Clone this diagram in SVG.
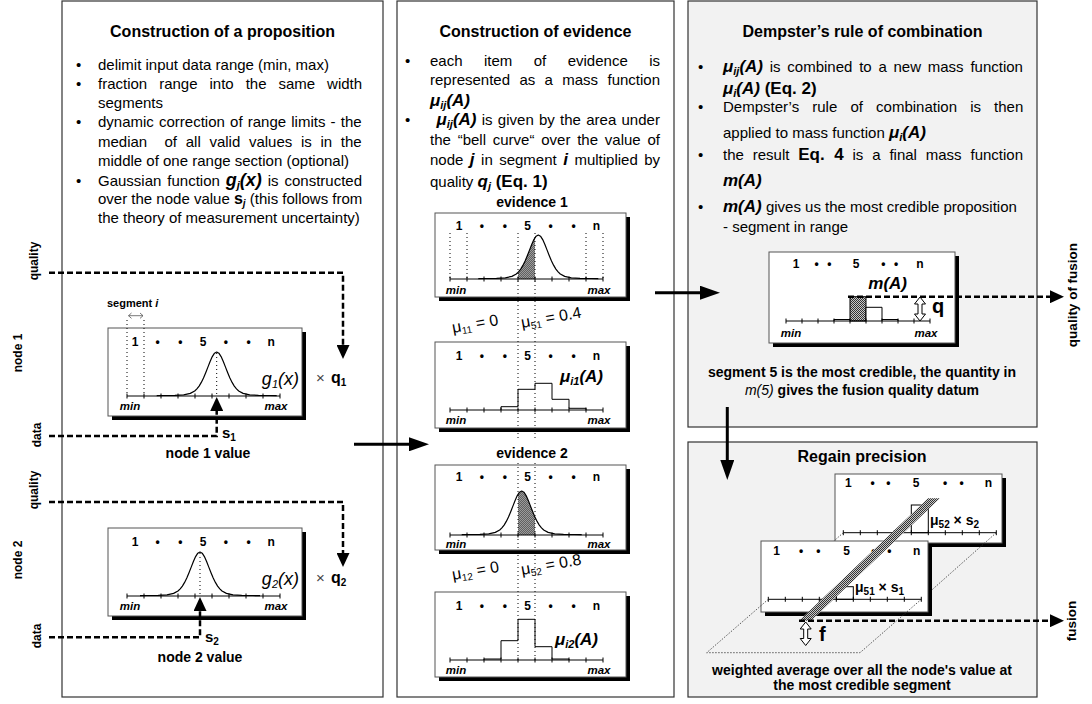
<svg xmlns="http://www.w3.org/2000/svg" width="1092" height="704" viewBox="0 0 1092 704">
<defs>
<style>
text{font-family:"Liberation Sans",Arial,Helvetica,sans-serif;fill:#000}
.tx{font-size:15px}
.ttl{font-size:16px;font-weight:bold;text-anchor:middle}
.b{font-weight:bold}
.bi{font-weight:bold;font-style:italic}
.lbl{font-size:12px;font-weight:bold;text-anchor:middle}
.mm{font-size:11.5px;font-weight:bold;font-style:italic;text-anchor:middle}
.vl{font-size:12px;font-weight:bold;text-anchor:middle}
.vr{font-size:13.5px;font-weight:bold;text-anchor:middle}
.cap{font-size:14px;font-weight:bold;text-anchor:middle}
.mu{font-size:16px}
.panel{fill:#fff;stroke:#333;stroke-width:1.2}
.gpanel{fill:#f2f2f2;stroke:#333;stroke-width:1.2}
.box{fill:#fff;stroke:#555;stroke-width:1}
.sh{fill:#000}
.curve{fill:none;stroke:#000;stroke-width:1.2;stroke-linejoin:round}
.dot{fill:none;stroke:#000;stroke-width:1;stroke-dasharray:1 3}
.floor{fill:none;stroke:#333;stroke-width:0.8;stroke-dasharray:1.5 1.5}
.dash{fill:none;stroke:#000;stroke-width:2.5;stroke-dasharray:6 3}
.solid{fill:none;stroke:#000;stroke-width:3}
.bar{fill:#fff;stroke:#000;stroke-width:1}
.hat{fill:url(#hatch)}
.dbl{fill:#fff;stroke:#000;stroke-width:1}
.ax{fill:none;stroke:#000;stroke-width:1}
</style>
<pattern id="hatch" width="2" height="2" patternUnits="userSpaceOnUse">
<rect width="2" height="2" fill="#c8c8c8"/><rect width="1" height="1" fill="#333"/><rect x="1" y="1" width="1" height="1" fill="#333"/>
</pattern>
<marker id="ad" markerUnits="userSpaceOnUse" markerWidth="14" markerHeight="13" viewBox="0 0 14 13" refX="0" refY="6.5" orient="auto"><path d="M0,0 L14,6.5 L0,13 Z" fill="#000"/></marker>
<marker id="as" markerUnits="userSpaceOnUse" markerWidth="20" markerHeight="14" viewBox="0 0 20 14" refX="0" refY="7" orient="auto"><path d="M0,0 L20,7 L0,14 Z" fill="#000"/></marker>
<path id="ax17" class="ax" d="M0,0H153M0,-2.5v5M17,-2.5v5M34,-2.5v5M51,-2.5v5M68,-2.5v5M85,-2.5v5M102,-2.5v5M119,-2.5v5M136,-2.5v5M153,-2.5v5"/>
<path id="ax16" class="ax" d="M0,0H144M0,-2.5v5M16,-2.5v5M32,-2.5v5M48,-2.5v5M64,-2.5v5M80,-2.5v5M96,-2.5v5M112,-2.5v5M128,-2.5v5M144,-2.5v5"/>
<path id="gauss" class="curve" d="M-60,-0.35 L-52.8,-0.5 L-41.8,-0.7 L-33,-1.2 L-26.4,-2.6 L-22,-5 L-19.8,-7.1 L-17.6,-9.9 L-15.4,-13.6 L-13.2,-18 L-11,-23.3 L-8.8,-28.9 L-6.6,-34.5 L-4.4,-39.4 L-2.2,-42.8 L0,-44 L2.2,-42.8 L4.4,-39.4 L6.6,-34.5 L8.8,-28.9 L11,-23.3 L13.2,-18 L15.4,-13.6 L17.6,-9.9 L19.8,-7.1 L22,-5 L26.4,-2.6 L33,-1.2 L41.8,-0.7 L52.8,-0.5 L60,-0.35"/>
<clipPath id="gclip"><path d="M-60,-0.35 L-52.8,-0.5 L-41.8,-0.7 L-33,-1.2 L-26.4,-2.6 L-22,-5 L-19.8,-7.1 L-17.6,-9.9 L-15.4,-13.6 L-13.2,-18 L-11,-23.3 L-8.8,-28.9 L-6.6,-34.5 L-4.4,-39.4 L-2.2,-42.8 L0,-44 L2.2,-42.8 L4.4,-39.4 L6.6,-34.5 L8.8,-28.9 L11,-23.3 L13.2,-18 L15.4,-13.6 L17.6,-9.9 L19.8,-7.1 L22,-5 L26.4,-2.6 L33,-1.2 L41.8,-0.7 L52.8,-0.5 L60,-0.35 L60,0 L-60,0 Z"/></clipPath>
</defs>

<!-- Panel 1 -->
<g id="panel-proposition">
<rect class="panel" x="62" y="1" width="321" height="696"/>
<text class="ttl" x="222.5" y="37">Construction of a proposition</text>
<text class="tx"><tspan x="76" y="70">•</tspan><tspan x="76" y="89">•</tspan><tspan x="76" y="127">•</tspan><tspan x="76" y="186">•</tspan></text>
<text class="tx" x="98" y="70">delimit input data range (min, max)</text>
<text class="tx" x="98" y="89" style="word-spacing:7.8px">fraction range into the same width</text>
<text class="tx" x="98" y="108">segments</text>
<text class="tx" x="98" y="127" style="word-spacing:1px">dynamic correction of range limits - the</text>
<text class="tx" x="98" y="147" xml:space="preserve" style="word-spacing:4.5px">median  of all valid values is in the</text>
<text class="tx" x="98" y="166">middle of one range section (optional)</text>
<text class="tx" x="98" y="186" style="word-spacing:1.75px">Gaussian function <tspan class="bi" font-size="18">g<tspan font-size="11" dy="3">j</tspan><tspan dy="-3">(x)</tspan></tspan> is constructed</text>
<text class="tx" x="98" y="204">over the node value <tspan class="b" font-size="16">s<tspan class="bi" font-size="10" dy="3">j</tspan></tspan><tspan dy="-3"> (this follows from</tspan></text>
<text class="tx" x="98" y="223">the theory of measurement uncertainty)</text>
</g>

<g id="labels-left">
<text class="vl" transform="translate(38,261) rotate(-90)">quality</text>
<text class="vl" transform="translate(22,353) rotate(-90)">node 1</text>
<text class="vl" transform="translate(41,435) rotate(-90)">data</text>
<text class="vl" transform="translate(38,490) rotate(-90)">quality</text>
<text class="vl" transform="translate(22,560) rotate(-90)">node 2</text>
<text class="vl" transform="translate(41,636) rotate(-90)">data</text>
</g>

<g id="node1">
<rect class="sh" x="112" y="332" width="194" height="88"/>
<rect class="box" x="108" y="328" width="194" height="88"/>
<use href="#gauss" x="216.7" y="396"/>
<use href="#ax17" x="127" y="396"/>
<path class="dot" d="M127,320V396M144,320V396M216.7,353V396"/>
<path d="M128.5,315.7H143M131.5,313L128.5,315.7L131.5,318.4M140,313L143,315.7L140,318.4" fill="none" stroke="#555" stroke-width="0.8"/>
<text class="b" font-size="11" x="107" y="307">segment <tspan class="bi">i</tspan></text>
<text class="lbl" x="135 157.7 180.4 203.1 225.8 248.5 271.2" y="346">1••5••n</text>
<text class="mm" x="130" y="410">min</text>
<text class="mm" x="276" y="410">max</text>
<text x="299" y="385" text-anchor="end" font-style="italic" font-size="18">g<tspan font-size="11" dy="3">1</tspan><tspan dy="-3">(x)</tspan></text>
<text x="316" y="383" font-size="15" style="fill:#444">×</text>
<text class="b" x="331" y="383" font-size="16">q<tspan font-size="10" dy="3">1</tspan></text>
<text class="b" x="222" y="438" font-size="15">s<tspan font-size="10" dy="3">1</tspan></text>
<text class="cap" x="208" y="458">node 1 value</text>
</g>

<g id="node2">
<rect class="sh" x="112" y="532" width="194" height="88"/>
<rect class="box" x="108" y="528" width="194" height="88"/>
<use href="#gauss" x="200" y="596"/>
<use href="#ax17" x="127" y="596"/>
<path class="dot" d="M200,553V596"/>
<text class="lbl" x="135 157.7 180.4 203.1 225.8 248.5 271.2" y="546">1••5••n</text>
<text class="mm" x="130" y="610">min</text>
<text class="mm" x="276" y="610">max</text>
<text x="299" y="585" text-anchor="end" font-style="italic" font-size="18">g<tspan font-size="11" dy="3">2</tspan><tspan dy="-3">(x)</tspan></text>
<text x="316" y="583" font-size="15" style="fill:#444">×</text>
<text class="b" x="331" y="583" font-size="16">q<tspan font-size="10" dy="3">2</tspan></text>
<text class="b" x="205" y="642" font-size="15">s<tspan font-size="10" dy="3">2</tspan></text>
<text class="cap" x="200" y="662">node 2 value</text>
</g>

<!-- Panel 2 -->
<g id="panel-evidence">
<rect class="panel" x="397" y="1" width="277" height="696"/>
<text class="ttl" x="535.5" y="37">Construction of evidence</text>
<text class="tx"><tspan x="405" y="66">•</tspan><tspan x="405" y="125">•</tspan></text>
<text class="tx" x="430" y="66" style="word-spacing:17.27px">each item of evidence is</text>
<text class="tx" x="430" y="85" style="word-spacing:5.18px">represented as a mass function</text>
<text class="bi" x="430" y="106" font-size="17">μ<tspan font-size="11" dy="3">ij</tspan><tspan dy="-3">(A)</tspan></text>
<text class="tx" x="436.5" y="125" style="word-spacing:1.1px"><tspan class="bi" font-size="17">μ<tspan font-size="11" dy="3">ij</tspan><tspan dy="-3">(A)</tspan></tspan> is given by the area under</text>
<text class="tx" x="430" y="145" style="word-spacing:2.62px">the “bell curve“ over the value of</text>
<text class="tx" x="430" y="165" style="word-spacing:2.3px">node <tspan class="bi" font-size="17">j</tspan> in segment <tspan class="bi" font-size="17">i</tspan> multiplied by</text>
<text class="tx" x="430" y="187">quality <tspan class="bi" font-size="17">q<tspan font-size="11" dy="3">j</tspan></tspan><tspan class="b" font-size="17" dy="-3"> (Eq. 1)</tspan></text>
<text class="cap" x="532" y="207">evidence 1</text>
</g>

<g id="evidence1">
<rect class="sh" x="439" y="217" width="191" height="84"/>
<rect class="box" x="435" y="213" width="191" height="84"/>
<g transform="translate(538.3,279)"><rect class="hat" x="-20.3" y="-50" width="17" height="50" clip-path="url(#gclip)"/><use href="#gauss"/></g>
<use href="#ax17" x="450" y="279"/>
<path class="dot" d="M450,233V279M467,233V279M586,233V279M603,233V279"/>
<text class="lbl" x="459 481.9 504.8 527.7 550.6 573.5 596.4" y="230">1••5••n</text>
<text class="mm" x="456" y="294">min</text>
<text class="mm" x="599" y="294">max</text>
</g>

<g id="hist1">
<rect class="sh" x="439" y="346" width="191" height="86"/>
<rect class="box" x="435" y="342" width="191" height="86"/>
<path class="bar" d="M501,410V406.7H518V389.3H535V383.3H552V399.3H569V408.3H586V410"/>
<use href="#ax17" x="450" y="410"/>
<text class="lbl" x="459 481.9 504.8 527.7 550.6 573.5 596.4" y="360">1••5••n</text>
<text class="bi" x="603" y="382" font-size="17" text-anchor="end">μ<tspan font-size="11" dy="3">i1</tspan><tspan dy="-3">(A)</tspan></text>
<text class="mm" x="456" y="424">min</text>
<text class="mm" x="599" y="424">max</text>
</g>

<g id="evidence2">
<text class="cap" x="532" y="458">evidence 2</text>
<rect class="sh" x="439" y="469" width="191" height="85"/>
<rect class="box" x="435" y="465" width="191" height="85"/>
<g transform="translate(521.7,535)"><rect class="hat" x="-3.7" y="-50" width="17" height="50" clip-path="url(#gclip)"/><use href="#gauss"/></g>
<use href="#ax17" x="450" y="535"/>
<text class="lbl" x="459 481.9 504.8 527.7 550.6 573.5 596.4" y="481">1••5••n</text>
<text class="mm" x="456" y="548">min</text>
<text class="mm" x="599" y="548">max</text>
</g>

<g id="hist2">
<rect class="sh" x="439" y="596" width="191" height="85"/>
<rect class="box" x="435" y="592" width="191" height="85"/>
<path class="bar" d="M484,660V659H501V640.7H518V619.3H535V646.7H552V659H569V660"/>
<use href="#ax17" x="450" y="660"/>
<text class="lbl" x="459 481.9 504.8 527.7 550.6 573.5 596.4" y="610">1••5••n</text>
<text class="bi" x="598" y="645" font-size="17" text-anchor="end">μ<tspan font-size="11" dy="3">i2</tspan><tspan dy="-3">(A)</tspan></text>
<text class="mm" x="456" y="674">min</text>
<text class="mm" x="599" y="674">max</text>
</g>

<g id="segment5-guides">
<path class="dot" d="M518,233V440M535,233V440M518,463V660M535,463V660"/>
<text class="mu" transform="rotate(-10 453 333)" x="453" y="333">μ<tspan font-size="10" dy="3">11</tspan><tspan dy="-3"> = 0</tspan></text>
<text class="mu" transform="rotate(-10 522 328)" x="522" y="328">μ<tspan font-size="10" dy="3">51</tspan><tspan dy="-3"> = 0.4</tspan></text>
<text class="mu" transform="rotate(-10 453 580)" x="453" y="580">μ<tspan font-size="10" dy="3">12</tspan><tspan dy="-3"> = 0</tspan></text>
<text class="mu" transform="rotate(-10 522 575)" x="522" y="575">μ<tspan font-size="10" dy="3">52</tspan><tspan dy="-3"> = 0.8</tspan></text>
</g>

<!-- Panel 3 -->
<g id="panel-dempster">
<rect class="gpanel" x="688" y="1" width="349" height="426"/>
<text class="ttl" x="862.5" y="37">Dempster’s rule of combination</text>
<text class="tx"><tspan x="698" y="72">•</tspan><tspan x="698" y="112">•</tspan><tspan x="698" y="160">•</tspan><tspan x="698" y="212">•</tspan></text>
<text class="tx" x="723" y="72" style="word-spacing:2.59px"><tspan class="bi" font-size="17">μ<tspan font-size="11" dy="3">ij</tspan><tspan dy="-3">(A)</tspan></tspan> is combined to a new mass function</text>
<text class="bi" x="723" y="94" font-size="17">μ<tspan font-size="11" dy="3">i</tspan><tspan dy="-3">(A)</tspan><tspan font-style="normal"> (Eq. 2)</tspan></text>
<text class="tx" x="723" y="112" style="word-spacing:8.98px">Dempster’s rule of combination is then</text>
<text class="tx" x="723" y="138">applied to mass function <tspan class="bi" font-size="17">μ<tspan font-size="11" dy="3">i</tspan><tspan dy="-3">(A)</tspan></tspan></text>
<text class="tx" x="723" y="160" style="word-spacing:4.7px">the result <tspan class="b" font-size="17">Eq. 4</tspan> is a final mass function</text>
<text class="bi" x="723" y="186" font-size="17">m(A)</text>
<text class="tx" x="723" y="212"><tspan class="bi" font-size="17">m(A)</tspan> gives us the most credible proposition</text>
<text class="tx" x="723" y="232">- segment in range</text>
</g>

<g id="mA-chart">
<rect class="sh" x="773" y="256" width="186" height="91"/>
<rect class="box" x="769" y="252" width="186" height="91"/>
<rect class="hat" x="850" y="296.7" width="16" height="24.3" stroke="#000" stroke-width="1"/>
<path class="bar" d="M866,321V307.3H882V321"/>
<path class="ax" d="M834,321V319.5H850M882,319.5H898V321"/>
<use href="#ax16" x="786" y="321"/>
<text class="lbl" x="796 816.7 829.3 856 883.3 896 920" y="268">1••5••n</text>
<text class="bi" x="907" y="289" font-size="17" text-anchor="end">m(A)</text>
<polygon class="dbl" points="920,297 925.5,304 922,304 922,314 925.5,314 920,321 914.5,314 918,314 918,304 914.5,304"/>
<text class="b" x="932" y="313" font-size="20">q</text>
<text class="mm" x="791" y="337">min</text>
<text class="mm" x="926" y="337">max</text>
<text class="cap" x="862" y="377">segment 5 is the most credible, the quantity in</text>
<text class="cap" x="862" y="395"><tspan font-style="italic" font-weight="normal">m(5)</tspan> gives the fusion quality datum</text>
</g>

<g id="panel-regain">
<rect class="gpanel" x="688" y="442" width="349" height="255"/>
<text class="ttl" x="862" y="462">Regain precision</text>
<g id="chart-node2">
<rect class="sh" x="839" y="478" width="167" height="69"/>
<rect class="box" x="835" y="474" width="167" height="69"/>
<text class="lbl" x="848.3 872.7 888.3 916 945 961.7 988.3" y="487">1••5••n</text>
<rect class="bar" x="911.3" y="505" width="17" height="27.7"/>
<use href="#ax17" x="843.3" y="532.7"/>
<text class="b" x="930" y="525" font-size="14">μ<tspan font-size="10" dy="3">52</tspan><tspan dy="-3"> × s</tspan><tspan font-size="10" dy="3">2</tspan></text>
</g>
<path class="floor" d="M843.3,532.7L768.3,599.3M996.3,532.7L921.3,599.3"/>
<g id="chart-node1">
<rect class="sh" x="765" y="545" width="167" height="71"/>
<rect class="box" x="761" y="541" width="167" height="71"/>
<text class="lbl" x="776.7 801 818.3 846.7 873.3 889.3 916.7" y="555">1••5••n</text>
<rect class="bar" x="836.3" y="586.7" width="17" height="12.6"/>
<use href="#ax17" x="768.3" y="599.3"/>
<text class="b" x="855" y="592" font-size="14">μ<tspan font-size="10" dy="3">51</tspan><tspan dy="-3"> × s</tspan><tspan font-size="10" dy="3">1</tspan></text>
</g>
<path class="floor" d="M768.3,599.3L706.7,652.7H860L921.3,599.3"/>
<polygon class="hat" points="799,620.7 811,620.7 940,498.3 928,498.3"/>
<polygon class="dbl" points="805.7,622 811.2,629 807.7,629 807.7,638.5 811.2,638.5 805.7,645.5 800.2,638.5 803.7,638.5 803.7,629 800.2,629"/>
<text class="b" x="819" y="641" font-size="20">f</text>
<text class="cap" x="862" y="675">weighted average over all the node's value at</text>
<text class="cap" x="862" y="690">the most credible segment</text>
</g>

<g id="labels-right">
<text class="vr" transform="translate(1077,295) rotate(-90)">quality of fusion</text>
<text class="vr" transform="translate(1076,621) rotate(-90)">fusion</text>
</g>

<g id="connectors">
<path class="solid" d="M354,444.3H409" marker-end="url(#as)"/>
<path class="solid" d="M655,292.7H700" marker-end="url(#as)"/>
<path class="solid" d="M727.3,407V460" marker-end="url(#as)"/>
<path class="dash" d="M49,272.7H343V345" marker-end="url(#ad)"/>
<path class="dash" d="M49,436H216.7V411" marker-end="url(#ad)"/>
<path class="dash" d="M49,502H343V553" marker-end="url(#ad)"/>
<path class="dash" d="M49,637.3H200V611" marker-end="url(#ad)"/>
<path class="dash" d="M848,296.7H1050" marker-end="url(#ad)"/>
<path class="dash" d="M799,620.7H1050" marker-end="url(#ad)"/>
</g>
</svg>
